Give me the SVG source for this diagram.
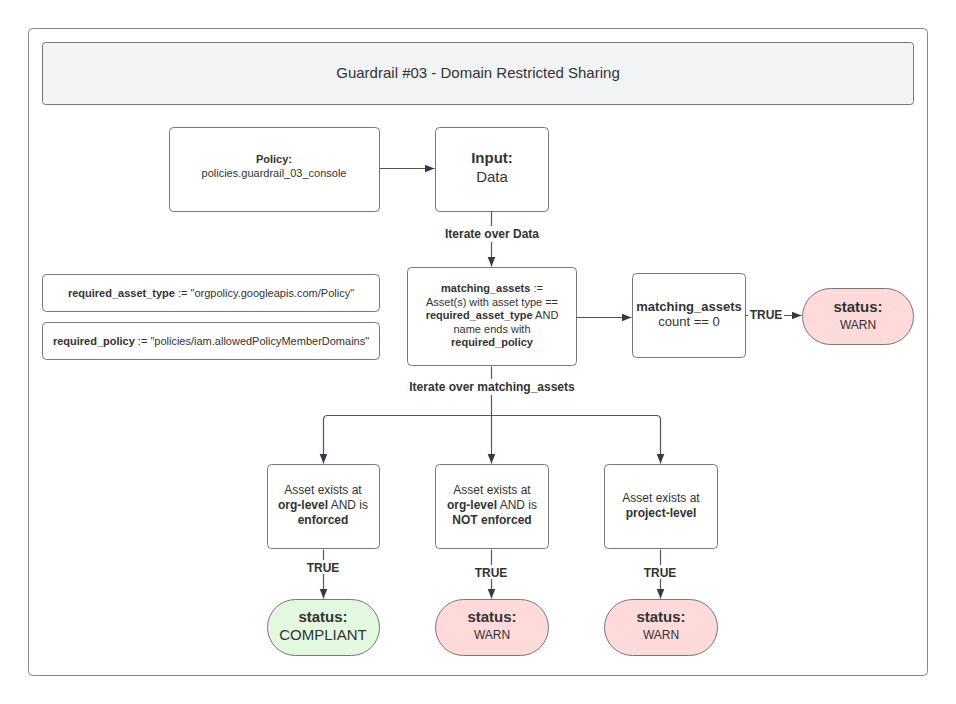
<svg xmlns="http://www.w3.org/2000/svg" width="956" height="704" viewBox="0 0 956 704">
<defs>
<marker id="ah" viewBox="0 0 10 10" refX="10" refY="5" markerWidth="10" markerHeight="10" markerUnits="userSpaceOnUse" orient="auto">
<path d="M0,1 L10,5 L0,9 Z" fill="#333a45"/>
</marker>
</defs>
<style>
text{font-family:"Liberation Sans",Arial,sans-serif;fill:#333;text-anchor:middle}
.b{font-weight:bold}
.box{fill:#fff;stroke:#777;stroke-width:1}
.warn{fill:#ffdadb;stroke:#777;stroke-width:1}
.ok{fill:#e3f9df;stroke:#777;stroke-width:1}
.c{fill:none;stroke:#555;stroke-width:1.2}
.s11{font-size:11px}
.s12{font-size:12px}
.s13{font-size:13px}
.s15{font-size:15px}
</style>
<rect width="956" height="704" fill="#fff"/>
<rect x="28.5" y="28.5" width="899" height="647" rx="4" fill="#fff" stroke="#888"/>
<g id="title">
<rect x="42.5" y="42.5" width="871" height="62" rx="3" fill="#f2f3f5" stroke="#777"/>
<text x="478" y="78" font-size="15">Guardrail #03 - Domain Restricted Sharing</text>
</g>
<g id="policy">
<rect class="box" x="169.5" y="127.5" width="210" height="84" rx="4"/>
<text x="274" y="163" class="s11 b">Policy:</text>
<text x="274" y="177" class="s11">policies.guardrail_03_console</text>
</g>
<g id="input">
<rect class="box" x="435.5" y="127.5" width="113" height="84" rx="4"/>
<text x="492" y="163" class="s15 b">Input:</text>
<text x="492" y="182" class="s15">Data</text>
</g>
<g id="req_type">
<rect class="box" x="42.5" y="274.5" width="337" height="37" rx="4"/>
<text x="211" y="297" class="s11"><tspan class="b">required_asset_type</tspan> := "orgpolicy.googleapis.com/Policy"</text>
</g>
<g id="req_policy">
<rect class="box" x="42.5" y="322.5" width="337" height="37" rx="4"/>
<text x="211" y="345" class="s11"><tspan class="b">required_policy</tspan> := "policies/iam.allowedPolicyMemberDomains"</text>
</g>
<g id="matching">
<rect class="box" x="407.5" y="267.5" width="169" height="98" rx="4"/>
<text x="492" y="292" class="s11"><tspan class="b">matching_assets</tspan> :=</text>
<text x="492" y="306" class="s11">Asset(s) with asset type ==</text>
<text x="492" y="319" class="s11"><tspan class="b">required_asset_type</tspan> AND</text>
<text x="492" y="333" class="s11">name ends with</text>
<text x="492" y="346" class="s11 b">required_policy</text>
</g>
<g id="count">
<rect class="box" x="632.5" y="273.5" width="113" height="84" rx="4"/>
<text x="689" y="311" class="s13 b">matching_assets</text>
<text x="689" y="326" class="s13">count == 0</text>
</g>
<g id="warn_top">
<rect class="warn" x="802.5" y="288.5" width="111" height="56" rx="28"/>
<text x="858" y="312" class="s15 b">status:</text>
<text x="858" y="329" class="s12">WARN</text>
</g>
<g id="org_enforced">
<rect class="box" x="267.5" y="464.5" width="112" height="84" rx="4"/>
<text x="323" y="494" class="s12">Asset exists at</text>
<text x="323" y="509" class="s12"><tspan class="b">org-level</tspan> AND is</text>
<text x="323" y="524" class="s12 b">enforced</text>
</g>
<g id="org_not_enforced">
<rect class="box" x="435.5" y="464.5" width="113" height="84" rx="4"/>
<text x="492" y="494" class="s12">Asset exists at</text>
<text x="492" y="509" class="s12"><tspan class="b">org-level</tspan> AND is</text>
<text x="492" y="524" class="s12 b">NOT enforced</text>
</g>
<g id="project_level">
<rect class="box" x="604.5" y="464.5" width="113" height="84" rx="4"/>
<text x="661" y="502" class="s12">Asset exists at</text>
<text x="661" y="517" class="s12 b">project-level</text>
</g>
<g id="compliant">
<rect class="ok" x="267.5" y="599.5" width="112" height="56" rx="28"/>
<text x="323" y="622" class="s15 b">status:</text>
<text x="323" y="640" class="s15">COMPLIANT</text>
</g>
<g id="warn2">
<rect class="warn" x="435.5" y="599.5" width="113" height="56" rx="28"/>
<text x="492" y="622" class="s15 b">status:</text>
<text x="492" y="639" class="s12">WARN</text>
</g>
<g id="warn3">
<rect class="warn" x="604.5" y="599.5" width="113" height="56" rx="28"/>
<text x="661" y="622" class="s15 b">status:</text>
<text x="661" y="639" class="s12">WARN</text>
</g>
<g id="connectors">
<path class="c" d="M379.5,168.5 H434.5" marker-end="url(#ah)"/>
<path class="c" d="M491.5,211.5 V266.5" marker-end="url(#ah)"/>
<path class="c" d="M576.5,317.5 H631.5" marker-end="url(#ah)"/>
<path class="c" d="M745.5,315.5 H801.5" marker-end="url(#ah)"/>
<path class="c" d="M491.5,366.5 V463.5" marker-end="url(#ah)"/>
<path class="c" d="M491.5,415.5 H327.5 Q323.5,415.5 323.5,419.5 V463.5" marker-end="url(#ah)"/>
<path class="c" d="M491.5,415.5 H656.5 Q660.5,415.5 660.5,419.5 V463.5" marker-end="url(#ah)"/>
<path class="c" d="M323.5,549.5 V598.5" marker-end="url(#ah)"/>
<path class="c" d="M491.5,549.5 V598.5" marker-end="url(#ah)"/>
<path class="c" d="M660.5,549.5 V598.5" marker-end="url(#ah)"/>
<rect x="440" y="226" width="104" height="16" fill="#fff"/>
<text x="492" y="238" class="s12 b">Iterate over Data</text>
<rect x="404" y="379" width="176" height="16" fill="#fff"/>
<text x="492" y="391" class="s12 b">Iterate over matching_assets</text>
<rect x="748" y="308" width="36" height="14" fill="#fff"/>
<text x="766" y="319" class="s12 b">TRUE</text>
<rect x="303" y="560" width="40" height="14" fill="#fff"/>
<text x="323" y="572" class="s12 b">TRUE</text>
<rect x="471" y="565" width="40" height="14" fill="#fff"/>
<text x="491" y="577" class="s12 b">TRUE</text>
<rect x="640" y="565" width="40" height="14" fill="#fff"/>
<text x="660" y="577" class="s12 b">TRUE</text>
</g>
</svg>
